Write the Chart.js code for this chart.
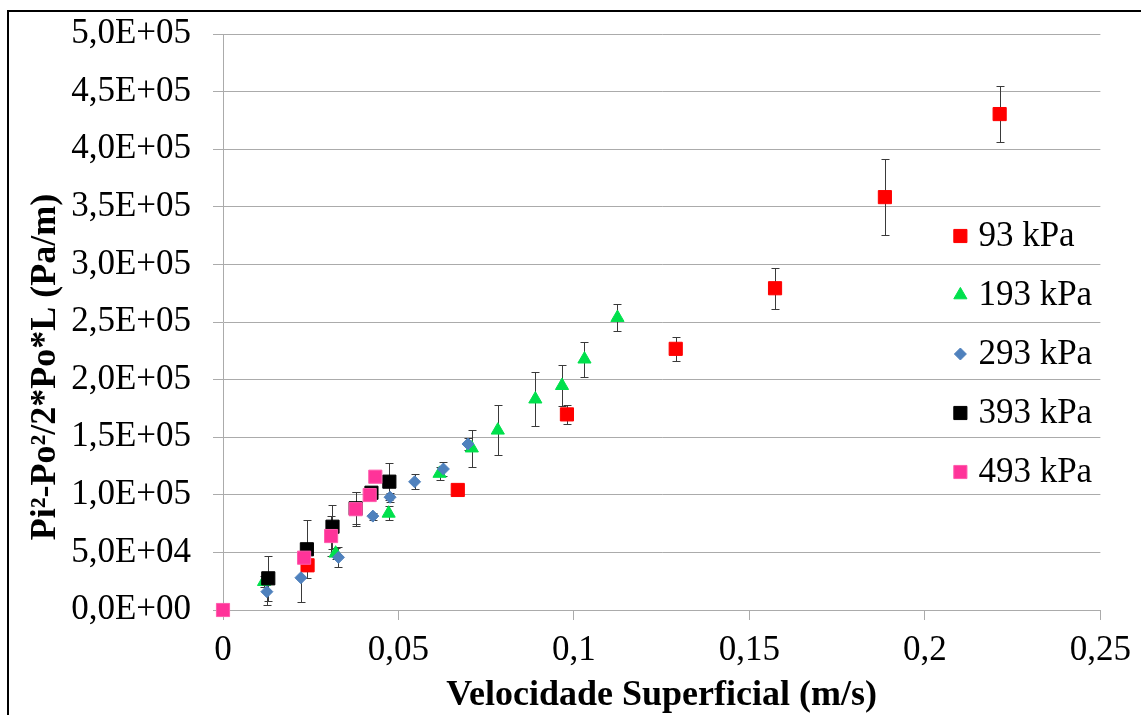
<!DOCTYPE html>
<html>
<head>
<meta charset="utf-8">
<script src="https://cdn.jsdelivr.net/npm/chart.js@4.4.0/dist/chart.umd.min.js"></script>
<style>
  html, body { margin: 0; padding: 0; background: #fff; overflow: hidden; }
  #wrap { position: relative; width: 1141px; height: 715px; }
  #frame { position: absolute; left: 7px; top: 10px; width: 1200px; height: 800px;
           border: 2px solid #000; box-sizing: border-box; pointer-events: none; }
</style>
</head>
<body>
<div id="wrap">
  <canvas id="grafico"></canvas>
  <div id="frame"></div>
</div>
<script>
// pressao de entrada de cada serie
const series = ['93 kPa', '193 kPa', '293 kPa', '393 kPa', '493 kPa'];

// velocidade superficial (m/s), gradiente (Pa/m) e desvio padrao
const vel93  = [0.0241, 0.0669, 0.0980, 0.1290, 0.1573, 0.1886, 0.2213];
const grad93 = [38800, 104200, 169800, 226700, 279300, 358400, 430500];
const err93  = [5000, 3000, 8400, 10500, 17800, 32900, 24500];

const vel193  = [0.0117, 0.0321, 0.0472, 0.0617, 0.0709, 0.0783, 0.0890, 0.0966, 0.1030, 0.1124];
const grad193 = [24600, 49200, 83900, 118500, 140500, 156000, 183000, 194700, 217700, 253800];
const err193  = [5000, 5000, 6000, 6000, 16000, 21700, 23600, 17700, 15200, 11600];

const vel293  = [0.0125, 0.0222, 0.0329, 0.0427, 0.0476, 0.0546, 0.0628, 0.0698];
const grad293 = [15900, 28000, 45700, 81500, 97900, 111300, 122400, 144100];
const err293  = [11600, 21000, 8700, 3000, 4000, 6400, 6000, 5000];

const vel393  = [0.0129, 0.0239, 0.0312, 0.0378, 0.0423, 0.0474];
const grad393 = [27500, 52700, 72300, 88300, 101800, 111400];
const err393  = [19400, 25300, 19200, 14000, 5000, 16000];

const vel493  = [0, 0.0231, 0.0308, 0.0378, 0.0418, 0.0434];
const grad493 = [0, 45400, 64200, 87500, 99800, 115700];
const err493  = [0, 5000, 17400, 14600, 4000, 3000];

const xTickLabels = ['0', '0,05', '0,1', '0,15', '0,2', '0,25'];
const yTickLabels = ['0,0E+00', '5,0E+04', '1,0E+05', '1,5E+05', '2,0E+05', '2,5E+05',
                     '3,0E+05', '3,5E+05', '4,0E+05', '4,5E+05', '5,0E+05'];

const serif = "'Liberation Serif', 'Times New Roman', serif";
const cinza = '#ABABAB';

const pontos = (xs, ys) => xs.map((x, i) => ({ x: x, y: ys[i] }));

// barras de erro verticais, desenhadas por baixo dos marcadores
const barrasErro = {
  id: 'barrasErro',
  beforeDatasetsDraw(chart) {
    const ctx = chart.ctx, sx = chart.scales.x, sy = chart.scales.y;
    ctx.save();
    ctx.strokeStyle = '#3a3a3a';
    ctx.lineWidth = 1;
    chart.data.datasets.forEach(ds => {
      ds.data.forEach((p, i) => {
        const e = ds.erros[i];
        if (!e) return;
        const px = Math.round(sx.getPixelForValue(p.x)) + 0.5;
        const topo = Math.round(sy.getPixelForValue(p.y + e)) + 0.5;
        const base = Math.round(sy.getPixelForValue(p.y - e)) + 0.5;
        ctx.beginPath();
        ctx.moveTo(px, topo); ctx.lineTo(px, base);
        ctx.moveTo(px - 4, topo); ctx.lineTo(px + 4, topo);
        ctx.moveTo(px - 4, base); ctx.lineTo(px + 4, base);
        ctx.stroke();
      });
    });
    ctx.restore();
  }
};

// legenda dentro da area do grafico, do lado direito
const legenda = {
  id: 'legenda',
  afterDraw(chart) {
    const ctx = chart.ctx, area = chart.chartArea;
    const lx = area.right - 140, ly = area.top + 202;
    ctx.save();
    ctx.font = '35px ' + serif;
    ctx.textBaseline = 'middle';
    chart.data.datasets.forEach((ds, i) => {
      const y = ly + i * 59;
      ctx.fillStyle = ds.backgroundColor;
      ctx.strokeStyle = ds.borderColor;
      ctx.lineWidth = 1;
      Chart.helpers.drawPoint(ctx, { pointStyle: ds.pointStyle, radius: ds.pointRadius, rotation: 0, borderWidth: 1 }, lx, y);
      ctx.fillStyle = '#000';
      ctx.fillText(ds.label, lx + 18, y + 1);
    });
    ctx.restore();
  }
};

// titulo do eixo y
const tituloY = {
  id: 'tituloY',
  afterDraw(chart) {
    const ctx = chart.ctx, area = chart.chartArea;
    ctx.save();
    ctx.translate(55, area.top + 333);
    ctx.rotate(-Math.PI / 2);
    ctx.font = 'bold 36px ' + serif;
    ctx.fillStyle = '#000';
    ctx.textAlign = 'center';
    ctx.textBaseline = 'alphabetic';
    ctx.fillText('Pi²-Po²/2*Po*L (Pa/m)', 0, 0);
    ctx.restore();
  }
};

const serie = (i, xs, ys, es, cor, borda, estilo, raio) => ({
  label: series[i],
  data: pontos(xs, ys),
  erros: es,
  backgroundColor: cor,
  borderColor: borda,
  borderWidth: 1,
  pointStyle: estilo,
  pointRadius: raio,
  pointHoverRadius: raio,
  showLine: false,
  clip: false,
  order: 5 - i
});

new Chart(document.getElementById('grafico'), {
  type: 'scatter',
  data: {
    datasets: [
      serie(0, vel93, grad93, err93, '#FF0000', '#FF0000', 'rect', 9.3),
      serie(1, vel193, grad193, err193, '#00E04C', '#00E04C', 'triangle', 7.6),
      serie(2, vel293, grad293, err293, '#4F81BD', '#4F81BD', 'rectRot', 6),
      serie(3, vel393, grad393, err393, '#000000', '#000000', 'rect', 9.3),
      serie(4, vel493, grad493, err493, '#FF3399', '#FF5CAD', 'rect', 9.3)
    ]
  },
  options: {
    responsive: true,
    maintainAspectRatio: false,
    animation: false,
    layout: { padding: { top: 34, right: 39, bottom: 0, left: 0 } },
    plugins: { legend: { display: false }, tooltip: { enabled: false } },
    scales: {
      x: {
        type: 'linear',
        min: 0,
        max: 0.25,
        afterFit: s => { s.height = 105; },
        grid: { drawOnChartArea: false, drawTicks: true, tickLength: 10, color: cinza },
        border: { color: cinza },
        ticks: {
          stepSize: 0.05,
          padding: 10,
          color: '#000',
          font: { family: serif, size: 35 },
          maxRotation: 0,
          callback: (v, i) => xTickLabels[i]
        },
        title: {
          display: true,
          text: 'Velocidade Superficial (m/s)',
          color: '#000',
          font: { family: serif, size: 36, weight: 'bold', lineHeight: 1 },
          padding: { top: 0, bottom: 1 }
        }
      },
      y: {
        min: 0,
        max: 500000,
        // a margem das etiquetas fica por conta do layout.padding
        afterFit: s => { s.width = 223; s.paddingTop = 0; s.paddingBottom = 0; },
        grid: { tickLength: 10, color: cinza },
        border: { color: cinza },
        ticks: {
          stepSize: 50000,
          padding: 22,
          color: '#000',
          font: { family: serif, size: 35 },
          callback: (v, i) => yTickLabels[i]
        }
      }
    }
  },
  plugins: [barrasErro, legenda, tituloY]
});
</script>
</body>
</html>
